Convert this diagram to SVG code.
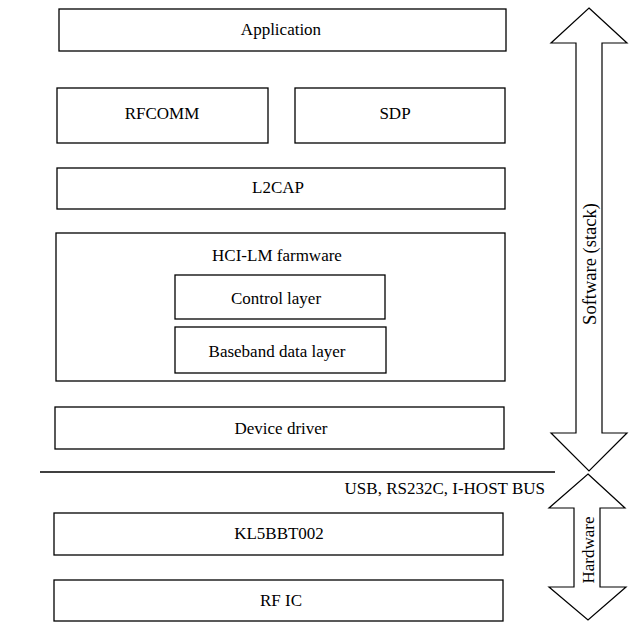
<svg xmlns="http://www.w3.org/2000/svg" width="631" height="622" viewBox="0 0 631 622">
<style>
.box{fill:#fff;stroke:#000;stroke-width:1.3}
.t{font-family:"Liberation Serif","Times New Roman",serif;font-size:17px;fill:#000;text-anchor:middle;dominant-baseline:central}
.v{font-size:18.5px}
.arrow{fill:#fff;stroke:#000;stroke-width:1.2;stroke-linejoin:miter}
</style>
<rect width="631" height="622" fill="#fff"/>
<g id="application"><rect class="box" x="59" y="9" width="447" height="42"/><text class="t" x="281" y="29">Application</text></g>
<g id="rfcomm"><rect class="box" x="57" y="88" width="211" height="55"/><text class="t" x="162" y="113">RFCOMM</text></g>
<g id="sdp"><rect class="box" x="295" y="88" width="210" height="55"/><text class="t" x="395" y="113">SDP</text></g>
<g id="l2cap"><rect class="box" x="57" y="168" width="448" height="41"/><text class="t" x="278" y="187">L2CAP</text></g>
<g id="hci"><rect class="box" x="56" y="233" width="449" height="148"/><text class="t" x="277" y="255">HCI-LM farmware</text></g>
<g id="control"><rect class="box" x="175" y="275" width="210" height="44"/><text class="t" x="276" y="298">Control layer</text></g>
<g id="baseband"><rect class="box" x="175" y="327" width="211" height="46"/><text class="t" x="277" y="351">Baseband data layer</text></g>
<g id="device-driver"><rect class="box" x="55" y="407" width="449" height="42"/><text class="t" x="281" y="428">Device driver</text></g>
<g id="kl5bbt002"><rect class="box" x="54" y="513" width="449" height="42"/><text class="t" x="279" y="533">KL5BBT002</text></g>
<g id="rfic"><rect class="box" x="54" y="580" width="449" height="41"/><text class="t" x="281" y="600">RF IC</text></g>
<g id="connectors">
<line x1="40" y1="472" x2="555" y2="472" stroke="#000" stroke-width="1.3"/>
<text class="t" x="545" y="488" style="text-anchor:end">USB, RS232C, I-HOST BUS</text>
<g id="software-arrow"><path class="arrow" d="M589,8 L627,43 L602,43 L602,433 L627,433 L589,471 L551,433 L576,433 L576,43 L551,43 Z"/><text class="t v" transform="translate(590,264) rotate(-90)">Software (stack)</text></g>
<g id="hardware-arrow"><path class="arrow" d="M588,474 L625,508 L600,508 L600,587 L626,587 L588,620 L549,587 L574,587 L574,508 L549,508 Z"/><text class="t" transform="translate(588,550) rotate(-90)">Hardware</text></g>
</g>
</svg>
